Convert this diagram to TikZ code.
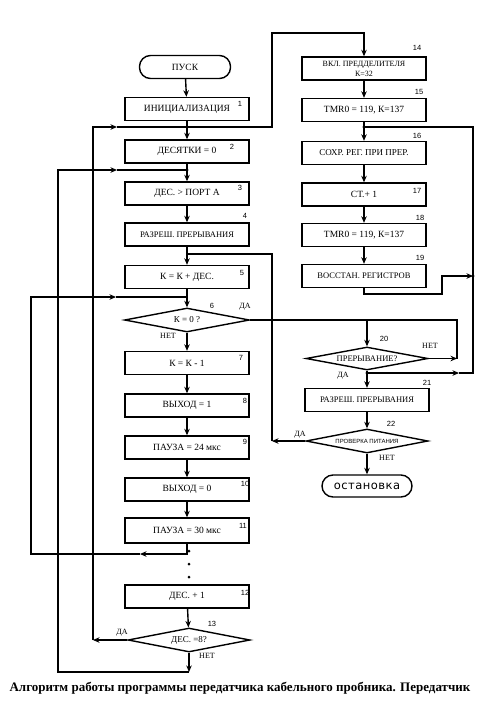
\documentclass[tikz,border=0pt]{standalone}
\usepackage{fontspec}
\setmainfont{Liberation Serif}
\setsansfont{Liberation Sans}
\newfontfamily\stopfont[LetterSpace=4]{DejaVu Sans}
\usetikzlibrary{shapes.geometric,arrows.meta}
\tikzset{
  ln/.style={line width=1.4pt},
  arr/.style={line width=1.4pt,-{Stealth[length=6.5pt,width=5.5pt]}},
  blk/.style={draw,ln,minimum width=124pt,minimum height=23pt,inner sep=1pt,
    font=\fontsize{9.5}{10}\selectfont},
  term/.style={draw,ln,rounded corners=11pt,minimum width=91pt,minimum height=23pt,
    font=\fontsize{9.5}{10}\selectfont},
  dec/.style={draw,ln,diamond,aspect=5,minimum width=122pt,minimum height=24pt,
    inner sep=0pt,font=\fontsize{9}{9}\selectfont},
  num/.style={font=\sffamily\fontsize{7.5}{7.5}\selectfont},
  lbl/.style={font=\fontsize{8}{8}\selectfont}
}
\begin{document}
\begin{tikzpicture}[x=1pt,y=-1pt]
  \useasboundingbox (0,0) rectangle (492,716);
  % left column
  \node[term] (start) at (185,67) {ПУСК};
  \node[blk] (b1) at (187,109) {ИНИЦИАЛИЗАЦИЯ};
  \node[blk] (b2) at (187,151.5) {ДЕСЯТКИ = 0};
  \node[blk] (b3) at (187,193.5) {ДЕС. > ПОРТ А};
  \node[blk,font=\fontsize{8.5}{9}\selectfont] (b4) at (187,234.5) {РАЗРЕШ. ПРЕРЫВАНИЯ};
  \node[blk] (b5) at (187,277) {К = К + ДЕС.};
  \node[dec,minimum width=125pt] (d6) at (187,320) {К = 0 ?};
  \node[blk] (b7) at (187,363) {К = К - 1};
  \node[blk] (b8) at (187,405.5) {ВЫХОД = 1};
  \node[blk] (b9) at (187,447.5) {ПАУЗА = 24 мкс};
  \node[blk] (b10) at (187,489.5) {ВЫХОД = 0};
  \node[blk,minimum height=25pt] (b11) at (187,530.5) {ПАУЗА = 30 мкс};
  \node[blk] (b12) at (187,596.5) {ДЕС. + 1};
  \node[dec] (d13) at (189,640) {ДЕС. =8?};
  % right column
  \node[blk,align=center,font=\fontsize{8}{10}\selectfont] (b14) at (364,68.5) {ВКЛ. ПРЕДДЕЛИТЕЛЯ\\К=32};
  \node[blk] (b15) at (364,110) {TMR0 = 119, К=137};
  \node[blk,font=\fontsize{9}{9}\selectfont] (b16) at (364,153) {СОХР. РЕГ. ПРИ ПРЕР.};
  \node[blk] (b17) at (364,194.5) {СТ.+ 1};
  \node[blk] (b18) at (364,235) {TMR0 = 119, К=137};
  \node[blk,font=\fontsize{8.5}{9}\selectfont] (b19) at (364,276) {ВОССТАН. РЕГИСТРОВ};
  \node[dec,minimum height=23pt,font=\fontsize{8.5}{9}\selectfont] (d20) at (367,358.5) {ПРЕРЫВАНИЕ?};
  \node[blk,font=\fontsize{8.5}{9}\selectfont] (b21) at (367,400) {РАЗРЕШ. ПРЕРЫВАНИЯ};
  \node[dec,font=\sffamily\fontsize{6}{6}\selectfont] (d22) at (367,441) {ПРОВЕРКА ПИТАНИЯ};
  \node[term,font=\stopfont\fontsize{11.5}{11.5}\selectfont,minimum width=90pt,minimum height=22pt] (stop) at (367,486) {остановка};
  % junctions and bends
  \coordinate (j1) at (187,127);
  \coordinate (j2) at (187,170);
  \coordinate (j4) at (187,254);
  \coordinate (j5) at (187,297);
  \coordinate (j6) at (367,320);
  \coordinate (j15) at (364,127);
  \coordinate (j20) at (367,373);
  \coordinate (t1) at (272,33);
  \coordinate (k13) at (93,640);
  \coordinate (a1) at (117,127);
  \coordinate (k13b) at (189,672);
  \coordinate (k2) at (58,672);
  \coordinate (a2) at (117,170);
  \coordinate (k22) at (272,441);
  \coordinate (k11) at (187,554);
  \coordinate (a11) at (140,554);
  \coordinate (k11b) at (31,554);
  \coordinate (a5) at (116,297);
  \coordinate (k6) at (457,320);
  \coordinate (k20) at (457,358.5);
  \coordinate (a20) at (459,373);
  \coordinate (k20b) at (473,373);
  \coordinate (k19a) at (442,294);
  \coordinate (k19b) at (473,276);
  % straight flow
  \foreach \a/\b in {start/b1,b1/b2,b2/b3,b3/b4,b4/b5,b5/d6,d6/b7,b7/b8,b8/b9,b9/b10,
      b10/b11,b12/d13,b14/b15,b15/b16,b16/b17,b17/b18,b18/b19,d20/b21,b21/d22,d22/stop}
    \draw[arr] (\a)--(\b);
  % branches and loops
  \draw[arr] (j1) -| (t1) -| (b14);
  \draw[arr] (d13) -- (k13);
  \draw[arr] (k13) |- (a1);
  \draw[ln] (a1) -- (j1);
  \draw[arr] (d13) -- (k13b);
  \draw[arr] (k13b) -- (k2) |- (a2);
  \draw[ln] (a2) -- (j2);
  \draw[arr] (d22) -- (k22);
  \draw[ln] (k22) |- (j4);
  \draw[arr] (b11.south) -- (k11) -- (a11);
  \draw[arr] (a11) -- (k11b) |- (a5);
  \draw[ln] (a5) -- (j5);
  \draw[ln] (d6) -- (k6) -- (k20);
  \draw[arr] (j6) -- (d20);
  \draw[arr] (d20) -- (k20);
  \draw[arr] (j20) -- (a20);
  \draw[ln] (a20) -- (k20b) |- (j15);
  \draw[arr] (b19) |- (k19a) |- (k19b);
  \fill (j1) circle(1.6) (j2) circle(1.6) (j15) circle(1.6) (j20) circle(1.6) (k19b) circle(1.6);
  \foreach \y in {551,564,577}
    \fill (189,\y) circle(1.5);
  % numbers
  \foreach \n/\x/\y in {1/240/104,2/232/147,3/240/188,4/245/216,5/242/273,6/212/306,
      7/241/358,8/245/401,9/245/442,10/245/484,11/243/526,12/245/593,13/212/624,
      14/417/48,15/419/92,16/417/136,17/417/191,18/420/218,19/420/258,20/384/339,
      21/427/383,22/391/424}
    \node[num] (n\n) at (\x,\y) {\n};
  \node[lbl] (y6) at (245,307) {ДА};
  \node[lbl] (n6) at (168,336) {НЕТ};
  \node[lbl] (n20) at (430,346) {НЕТ};
  \node[lbl] (y20) at (343,376) {ДА};
  \node[lbl] (y22) at (300,435) {ДА};
  \node[lbl] (n22) at (387,458) {НЕТ};
  \node[lbl] (y13) at (122,633) {ДА};
  \node[lbl] (n13) at (207,656) {НЕТ};
  \node[font=\bfseries\fontsize{13}{13}\selectfont] (cap) at (240,688)
    {Алгоритм работы программы передатчика кабельного пробника. Передатчик};
\end{tikzpicture}
\end{document}
